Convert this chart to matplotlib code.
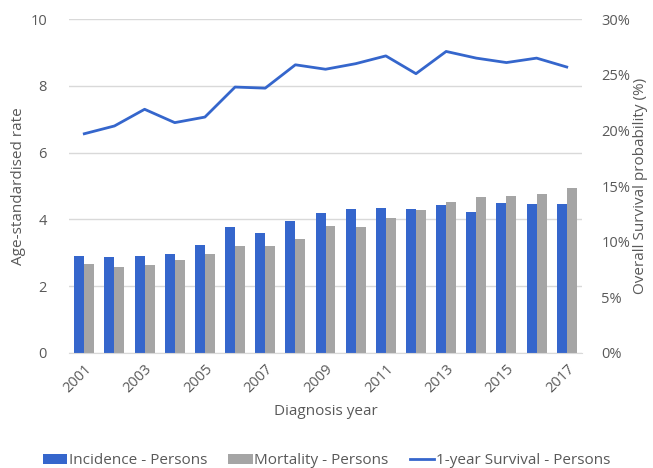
import numpy as np
import matplotlib.pyplot as plt
from matplotlib.ticker import PercentFormatter

plt.rcParams['font.family'] = ['Open Sans', 'DejaVu Sans']

years = list(range(2001, 2018))
incidence = [2.90, 2.87, 2.89, 2.96, 3.23, 3.78, 3.58, 3.96, 4.20, 4.30,
             4.33, 4.30, 4.43, 4.21, 4.48, 4.45, 4.45]
mortality = [2.66, 2.56, 2.63, 2.78, 2.96, 3.20, 3.20, 3.42, 3.80, 3.78,
             4.03, 4.28, 4.53, 4.66, 4.71, 4.76, 4.93]
survival = [19.7, 20.4, 21.9, 20.7, 21.2, 23.9, 23.8, 25.9, 25.5, 26.0,
            26.7, 25.1, 27.1, 26.5, 26.1, 26.5, 25.7]

text_col = '#595959'
blue = '#3566CC'
grey = '#A5A5A5'

fig = plt.figure(figsize=(6.53, 4.68), dpi=100)
ax = fig.add_axes([0.106, 0.246, 0.785, 0.713])
ax2 = ax.twinx()

x = np.arange(len(years))
w = 0.33
ax.bar(x - w / 2, incidence, width=w, color=blue, label='Incidence - Persons', zorder=2)
ax.bar(x + w / 2, mortality, width=w, color=grey, label='Mortality - Persons', zorder=2)
ax2.plot(x, survival, color=blue, lw=2, label='1-year Survival - Persons')

ax.set_xlim(-0.5, len(years) - 0.5)
ax.set_ylim(0, 10)
ax.set_yticks([0, 2, 4, 6, 8, 10])
ax2.set_ylim(0, 30)
ax2.set_yticks([0, 5, 10, 15, 20, 25, 30])
ax2.yaxis.set_major_formatter(PercentFormatter(decimals=0))

ax.grid(axis='y', color='#D9D9D9', lw=1, zorder=0)
ax.set_axisbelow(True)
for a in (ax, ax2):
    for s in a.spines.values():
        s.set_visible(False)
    a.tick_params(length=0, colors=text_col, labelsize=10.5)
ax.tick_params(axis='y', pad=16)
ax2.tick_params(axis='y', pad=14)
ax.tick_params(axis='x', pad=6)
ax.spines['bottom'].set_visible(True)
ax.spines['bottom'].set_color('#D9D9D9')

ax.set_xticks(x[::2])
ax.set_xticklabels([str(y) for y in years[::2]], rotation=45, ha='right',
                   rotation_mode='anchor')

ax.set_ylabel('Age-standardised rate', color=text_col, fontsize=11, labelpad=3)
ax2.set_ylabel('Overall Survival probability (%)', color=text_col, fontsize=11,
               labelpad=2)
ax.set_xlabel('Diagnosis year', color=text_col, fontsize=11, labelpad=6)

h1, l1 = ax.get_legend_handles_labels()
h2, l2 = ax2.get_legend_handles_labels()
fig.legend(h1 + h2, l1 + l2, loc='lower center', ncol=3, frameon=False,
           bbox_to_anchor=(0.5, -0.03), fontsize=11, labelcolor=text_col,
           handlelength=1.6, handleheight=0.6, handletextpad=0.1,
           columnspacing=1.4)

fig.savefig('out.png', dpi=100)
